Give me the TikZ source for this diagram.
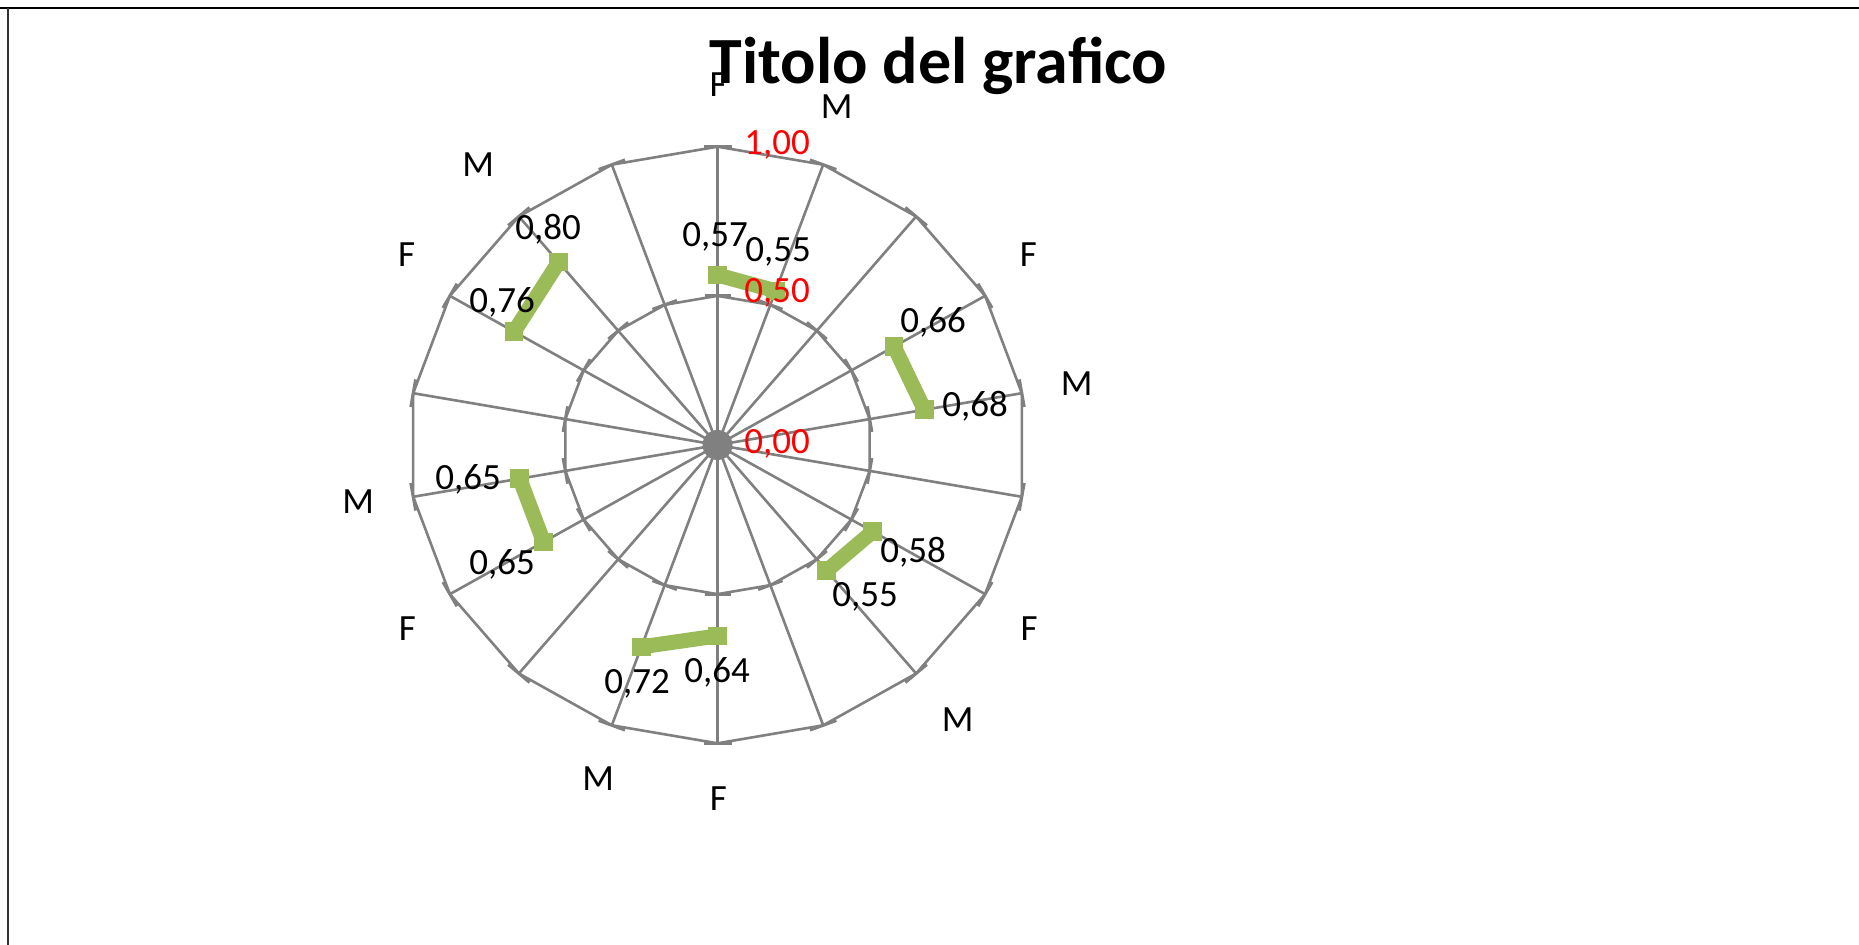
\documentclass[tikz,border=0pt]{standalone}
\usepackage{fontspec}
\setmainfont{Carlito}
\definecolor{axgray}{HTML}{808080}
\definecolor{sergreen}{HTML}{9BBB59}
\definecolor{axred}{HTML}{FF0000}
\begin{document}
\begin{tikzpicture}[x=0.5pt,y=-0.5pt,
  gridline/.style={draw=axgray,line width=1.3pt},
  tickmark/.style={draw=axgray,line width=1.5pt},
  series/.style={draw=sergreen,line width=7.5pt,line cap=butt},
  marker/.style={fill=sergreen,draw=none,rectangle,minimum size=9.3pt,inner sep=0pt},
  val/.style={font=\fontsize{18.5}{21}\selectfont,text=black,inner sep=0pt,anchor=base},
  cat/.style={font=\fontsize{18.5}{21}\selectfont,text=black,inner sep=0pt,anchor=base},
  axlab/.style={font=\fontsize{18.5}{21}\selectfont,text=axred,inner sep=0pt,anchor=base west},
  titlestyle/.style={font=\fontsize{33}{38}\selectfont\bfseries,text=black,inner sep=0pt,anchor=base}]
\useasboundingbox (0,0) rectangle (1859,945);
\fill[white] (0,0) rectangle (1859,945);
% chart frame
\draw[black,line width=1pt] (0,8) -- (1859,8);
\draw[black!80,line width=1.2pt] (8,8) -- (8,945);
% geometry
\def\cx{717.5}\def\cy{445}\def\rx{309}\def\ry{298.3}
\coordinate (O) at (\cx,\cy);
\foreach \i in {0,...,17}{
  \pgfmathsetmacro\a{20*\i}
  \coordinate (v\i) at ({\cx+\rx*sin(\a)},{\cy-\ry*cos(\a)});
  \coordinate (h\i) at ({\cx+0.5*\rx*sin(\a)},{\cy-0.5*\ry*cos(\a)});
}
% spokes
\foreach \i in {0,...,17}{ \draw[gridline] (O) -- (v\i); }
% grid polygons
\draw[gridline,line join=miter] (v0) -- (v1) -- (v2) -- (v3) -- (v4) -- (v5) -- (v6) -- (v7) -- (v8) -- (v9) -- (v10) -- (v11) -- (v12) -- (v13) -- (v14) -- (v15) -- (v16) -- (v17) -- cycle;
\draw[gridline,line join=miter] (h0) -- (h1) -- (h2) -- (h3) -- (h4) -- (h5) -- (h6) -- (h7) -- (h8) -- (h9) -- (h10) -- (h11) -- (h12) -- (h13) -- (h14) -- (h15) -- (h16) -- (h17) -- cycle;
% tick marks
\foreach \i in {0,...,17}{
  \pgfmathsetmacro\a{20*\i}
  \draw[tickmark] ({\cx+\rx*sin(\a)-14*cos(\a)},{\cy-\ry*cos(\a)-14*sin(\a)}) -- ({\cx+\rx*sin(\a)+14*cos(\a)},{\cy-\ry*cos(\a)+14*sin(\a)});
  \draw[tickmark] ({\cx+0.5*\rx*sin(\a)-13*cos(\a)},{\cy-0.5*\ry*cos(\a)-13*sin(\a)}) -- ({\cx+0.5*\rx*sin(\a)+13*cos(\a)},{\cy-0.5*\ry*cos(\a)+13*sin(\a)});
}
% hub
\fill[axgray] (O) circle[radius=7.5pt];
% data points
\foreach \n/\a/\v in {p1/0/0.57,q1/20/0.55,p2/60/0.66,q2/80/0.68,p3/120/0.58,q3/140/0.55,p4/180/0.64,q4/200/0.72,p5/240/0.65,q5/260/0.65,p6/300/0.76,q6/320/0.80}{
  \coordinate (\n) at ({\cx+\v*\rx*sin(\a)},{\cy-\v*\ry*cos(\a)});
}
\foreach \k in {1,...,6}{ \draw[series] (p\k) -- (q\k); }
\foreach \n in {p1,q1,p2,q2,p3,q3,p4,q4,p5,q5,p6,q6}{ \node[marker] (m\n) at (\n) {}; }
% value labels
\node[val] (l1) at (715,247) {0,57};
\node[val] (l2) at (778,262) {0,55};
\node[val] (l3) at (933,333) {0,66};
\node[val] (l4) at (975,417) {0,68};
\node[val] (l5) at (913,563) {0,58};
\node[val] (l6) at (865,607) {0,55};
\node[val] (l7) at (717,683) {0,64};
\node[val] (l8) at (637,694) {0,72};
\node[val] (l9) at (502,575) {0,65};
\node[val] (l10) at (468,490) {0,65};
\node[val] (l11) at (502,313) {0,76};
\node[val] (l12) at (548,240) {0,80};
% axis labels
\node[axlab] (a1) at (744,155) {1,00};
\node[axlab] (a2) at (744,303) {0,50};
\node[axlab] (a3) at (744,454) {0,00};
% category labels
\node[cat] (c0) at (718,96.7) {F};
\node[cat] (c1) at (836.7,118.3) {M};
\node[cat] (c3) at (1028.3,267) {F};
\node[cat] (c4) at (1076.7,395.5) {M};
\node[cat] (c6) at (1029,641) {F};
\node[cat] (c7) at (957.7,732) {M};
\node[cat] (c9) at (718.3,810.5) {F};
\node[cat] (c10) at (598.3,790.5) {M};
\node[cat] (c12) at (407.3,640.5) {F};
\node[cat] (c13) at (358.3,514) {M};
\node[cat] (c15) at (406.7,267) {F};
\node[cat] (c16) at (478.3,177) {M};
% title
\node[titlestyle] (title) at (938.3,83.3) {Titolo del grafico};
\end{tikzpicture}
\end{document}
